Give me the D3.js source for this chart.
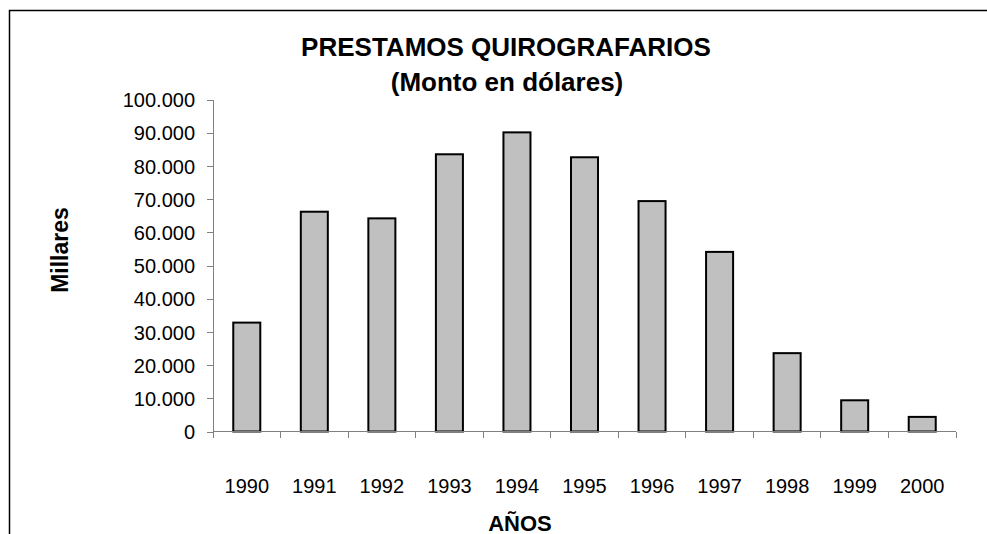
<!DOCTYPE html>
<meta charset="utf-8">
<style>
body { margin: 0; background: #fff; }
.frame { fill: none; stroke: #000; stroke-width: 1.5px; }
.axis path, .axis line { stroke: #808080; stroke-width: 1px; shape-rendering: crispEdges; }
.axis text { font: 20px "Liberation Sans", Arial, sans-serif; fill: #000; }
.bar { fill: #c0c0c0; stroke: #000; stroke-width: 2px; }
.title { font: bold 26px "Liberation Sans", Arial, sans-serif; text-anchor: middle; }
.label { font-family: "Liberation Sans", Arial, sans-serif; font-weight: bold; text-anchor: middle; }
</style>
<svg width="987" height="534"></svg>
<script src="https://d3js.org/d3.v7.min.js"></script>
<script>

var years = ["1990", "1991", "1992", "1993", "1994", "1995", "1996", "1997", "1998", "1999", "2000"];
var montos = [32800, 66200, 64200, 83500, 90100, 82600, 69400, 54100, 23600, 9400, 4400];
var yTicks = [0, 10000, 20000, 30000, 40000, 50000, 60000, 70000, 80000, 90000, 100000];

var svg = d3.select("svg");

// marco del grafico (se corta a la derecha y abajo)
svg.append("rect")
    .attr("class", "frame")
    .attr("x", 9.5)
    .attr("y", 10.5)
    .attr("width", 1100)
    .attr("height", 700);

var plotLeft = 213, plotRight = 956, plotTop = 99.5, plotBottom = 431.5;

var x = d3.scaleBand()
    .domain(years)
    .range([plotLeft, plotRight])
    .paddingInner(0.6)
    .paddingOuter(0.3);

var y = d3.scaleLinear()
    .domain([0, 100000])
    .range([plotBottom, plotTop]);

var fmt = function(d) { return d3.format(",")(d).replace(/,/g, "."); };

// eje y
var yAxis = svg.append("g")
    .attr("class", "axis")
    .attr("transform", "translate(" + plotLeft + ",0)")
    .call(d3.axisLeft(y).tickValues(yTicks).tickFormat(fmt).tickSize(6).tickSizeOuter(0).tickPadding(12));
yAxis.selectAll("text").attr("dy", "0.36em");

// barras
svg.append("g")
    .selectAll("rect")
    .data(montos)
    .enter().append("rect")
      .attr("class", "bar")
      .attr("x", function(d, i) { return x(years[i]); })
      .attr("y", function(d) { return y(d); })
      .attr("width", x.bandwidth())
      .attr("height", function(d) { return y(0) - y(d); });

// eje x: marcas en los limites de cada categoria
var xAxis = svg.append("g")
    .attr("class", "axis")
    .attr("transform", "translate(0," + plotBottom + ")");

xAxis.append("line")
    .attr("x1", plotLeft)
    .attr("x2", plotRight);

var bounds = years.map(function(d, i) { return plotLeft + i * x.step(); }).concat([plotRight]);

xAxis.selectAll(".tk")
    .data(bounds)
    .enter().append("line")
      .attr("class", "tk")
      .attr("x1", function(d) { return d; })
      .attr("x2", function(d) { return d; })
      .attr("y1", 0)
      .attr("y2", 6);

xAxis.selectAll(".yr")
    .data(years)
    .enter().append("text")
      .attr("class", "yr")
      .attr("x", function(d) { return x(d) + x.bandwidth() / 2; })
      .attr("y", 61)
      .attr("text-anchor", "middle")
      .text(function(d) { return d; });

// titulos
svg.append("text")
    .attr("class", "title")
    .attr("x", 506)
    .attr("y", 56)
    .text("PRESTAMOS QUIROGRAFARIOS");

svg.append("text")
    .attr("class", "title")
    .attr("x", 507)
    .attr("y", 91)
    .text("(Monto en dólares)");

svg.append("text")
    .attr("class", "label")
    .style("font-size", "22px")
    .attr("x", 520)
    .attr("y", 531)
    .text("AÑOS");

svg.append("text")
    .attr("class", "label")
    .style("font-size", "23px")
    .attr("transform", "translate(68,250) rotate(-90)")
    .text("Millares");

</script>
